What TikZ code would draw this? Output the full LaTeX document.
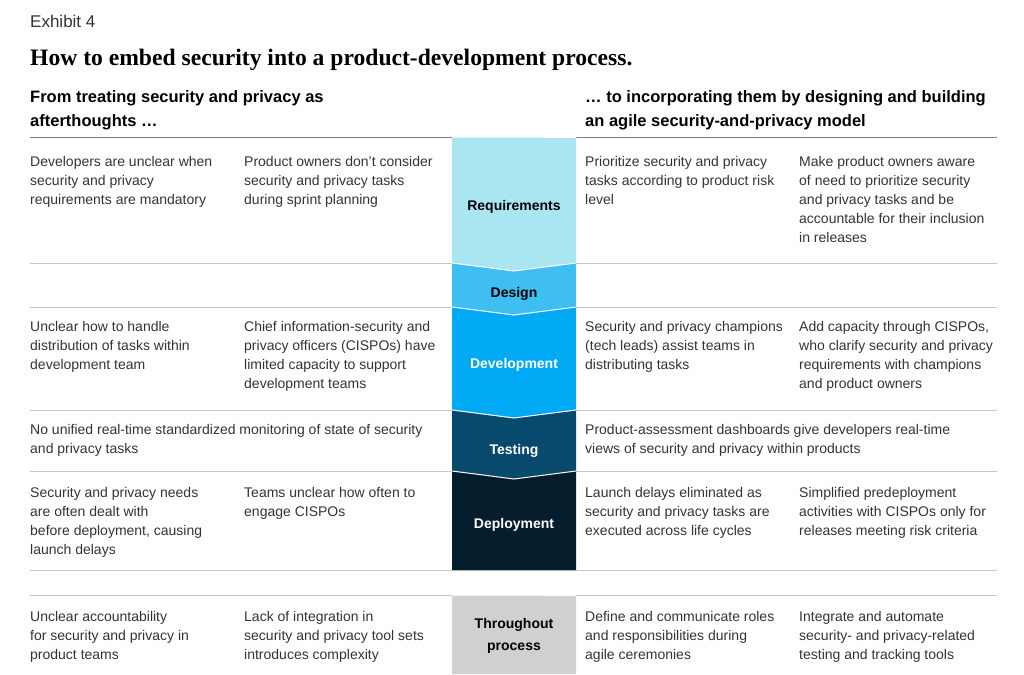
\documentclass[tikz,border=0pt]{standalone}
\usepackage{fontspec}
\setmainfont{Liberation Sans}
\newfontfamily\titlefont{Liberation Serif}
\usepackage{tikz}

\definecolor{txtgray}{HTML}{333333}
\definecolor{rulegray}{HTML}{C8C8C8}
\definecolor{topgray}{HTML}{808080}
\definecolor{reqcol}{HTML}{AAE6F1}
\definecolor{descol}{HTML}{3FBEF1}
\definecolor{devcol}{HTML}{00A9F4}
\definecolor{tstcol}{HTML}{074A6E}
\definecolor{depcol}{HTML}{051C2C}
\definecolor{thrcol}{HTML}{D0D0D0}

\begin{document}
\begin{tikzpicture}[x=1pt,y=-1pt]
            \useasboundingbox (0,0) rectangle (1024,674);
            \tikzstyle{cell}=[anchor=base west,align=left,inner sep=0pt,font=\fontsize{14}{19}\selectfont,text=txtgray]
            \tikzstyle{head}=[anchor=base west,align=left,inner sep=0pt,font=\fontsize{16.5}{24}\selectfont\bfseries,text=black]
            \tikzstyle{stage}=[anchor=base,align=center,inner sep=0pt,font=\fontsize{14}{22}\selectfont\bfseries]
            \tikzstyle{rule}=[draw=rulegray,line width=1pt]

            \node[anchor=base west,inner sep=0pt,font=\fontsize{17}{20}\selectfont,text=txtgray] (exhibit) at (30,28) {Exhibit 4};
            \node[anchor=base west,inner sep=0pt,font=\titlefont\bfseries\fontsize{23.6}{28}\selectfont] (title) at (30,66) {How to embed security into a product-development process.};
            \node[head] (H-left) at (30,126) {From treating security and privacy as\\afterthoughts …};
            \node[head] (H-right) at (585,126) {… to incorporating them by designing and building\\an agile security-and-privacy model};

            \draw[draw=topgray,line width=1pt] (30,137) -- (997,137);
            \foreach \y in {263, 307, 410, 471, 570, 595}
                \draw[rule] (30,\y) -- (997,\y);

            \foreach \num/\top/\dt/\bot/\db/\col in {1/137/0/263/8/reqcol, 2/263/8/307/8/descol, 3/307/8/410/8/devcol, 4/410/8/471/8/tstcol, 5/471/8/570/0/depcol, 6/595/0/674/0/thrcol}
            {
                \fill[\col] (452,\top) -- (514,\top+\dt) -- (576,\top) -- (576,\bot) -- (514,\bot+\db) -- (452,\bot) -- cycle;
                \draw[white,line width=1pt] (452,\top) -- (514,\top+\dt) -- (576,\top);
            }

            \foreach \num/\y/\col/\txt in {1/210/black/Requirements, 2/297/black/Design, 3/368/white/Development, 4/454/white/Testing, 5/528/white/Deployment, 6/650/black/{Throughout\\process}}
                \node[stage,text=\col] (S-\num) at (514,\y) {\txt};

            \foreach \num/\x/\y/\n/\txt in {
                1/30/166/3/{Developers are unclear when\\security and privacy\\requirements are mandatory},
                2/244/166/3/{Product owners don’t consider\\security and privacy tasks\\during sprint planning},
                3/585/166/3/{Prioritize security and privacy\\tasks according to product risk\\level},
                4/799/166/5/{Make product owners aware\\of need to prioritize security\\and privacy tasks and be\\accountable for their inclusion\\in releases},
                5/30/331/3/{Unclear how to handle\\distribution of tasks within\\development team},
                6/244/331/4/{Chief information-security and\\privacy officers (CISPOs) have\\limited capacity to support\\development teams},
                7/585/331/3/{Security and privacy champions\\(tech leads) assist teams in\\distributing tasks},
                8/799/331/4/{Add capacity through CISPOs,\\who clarify security and privacy\\requirements with champions\\and product owners},
                9/30/434/2/{No unified real-time standardized monitoring of state of security\\and privacy tasks},
                10/585/434/2/{Product-assessment dashboards give developers real-time\\views of security and privacy within products},
                11/30/497/4/{Security and privacy needs\\are often dealt with\\before deployment, causing\\launch delays},
                12/244/497/2/{Teams unclear how often to\\engage CISPOs},
                13/585/497/3/{Launch delays eliminated as\\security and privacy tasks are\\executed across life cycles},
                14/799/497/3/{Simplified predeployment\\activities with CISPOs only for\\releases meeting risk criteria},
                15/30/621/3/{Unclear accountability\\for security and privacy in\\product teams},
                16/244/621/3/{Lack of integration in\\security and privacy tool sets\\introduces complexity},
                17/585/621/3/{Define and communicate roles\\and responsibilities during\\agile ceremonies},
                18/799/621/3/{Integrate and automate\\security- and privacy-related\\testing and tracking tools}}
                \node[cell] (T-\num) at (\x,\y+19*\n-19) {\txt};
        \end{tikzpicture}
\end{document}
